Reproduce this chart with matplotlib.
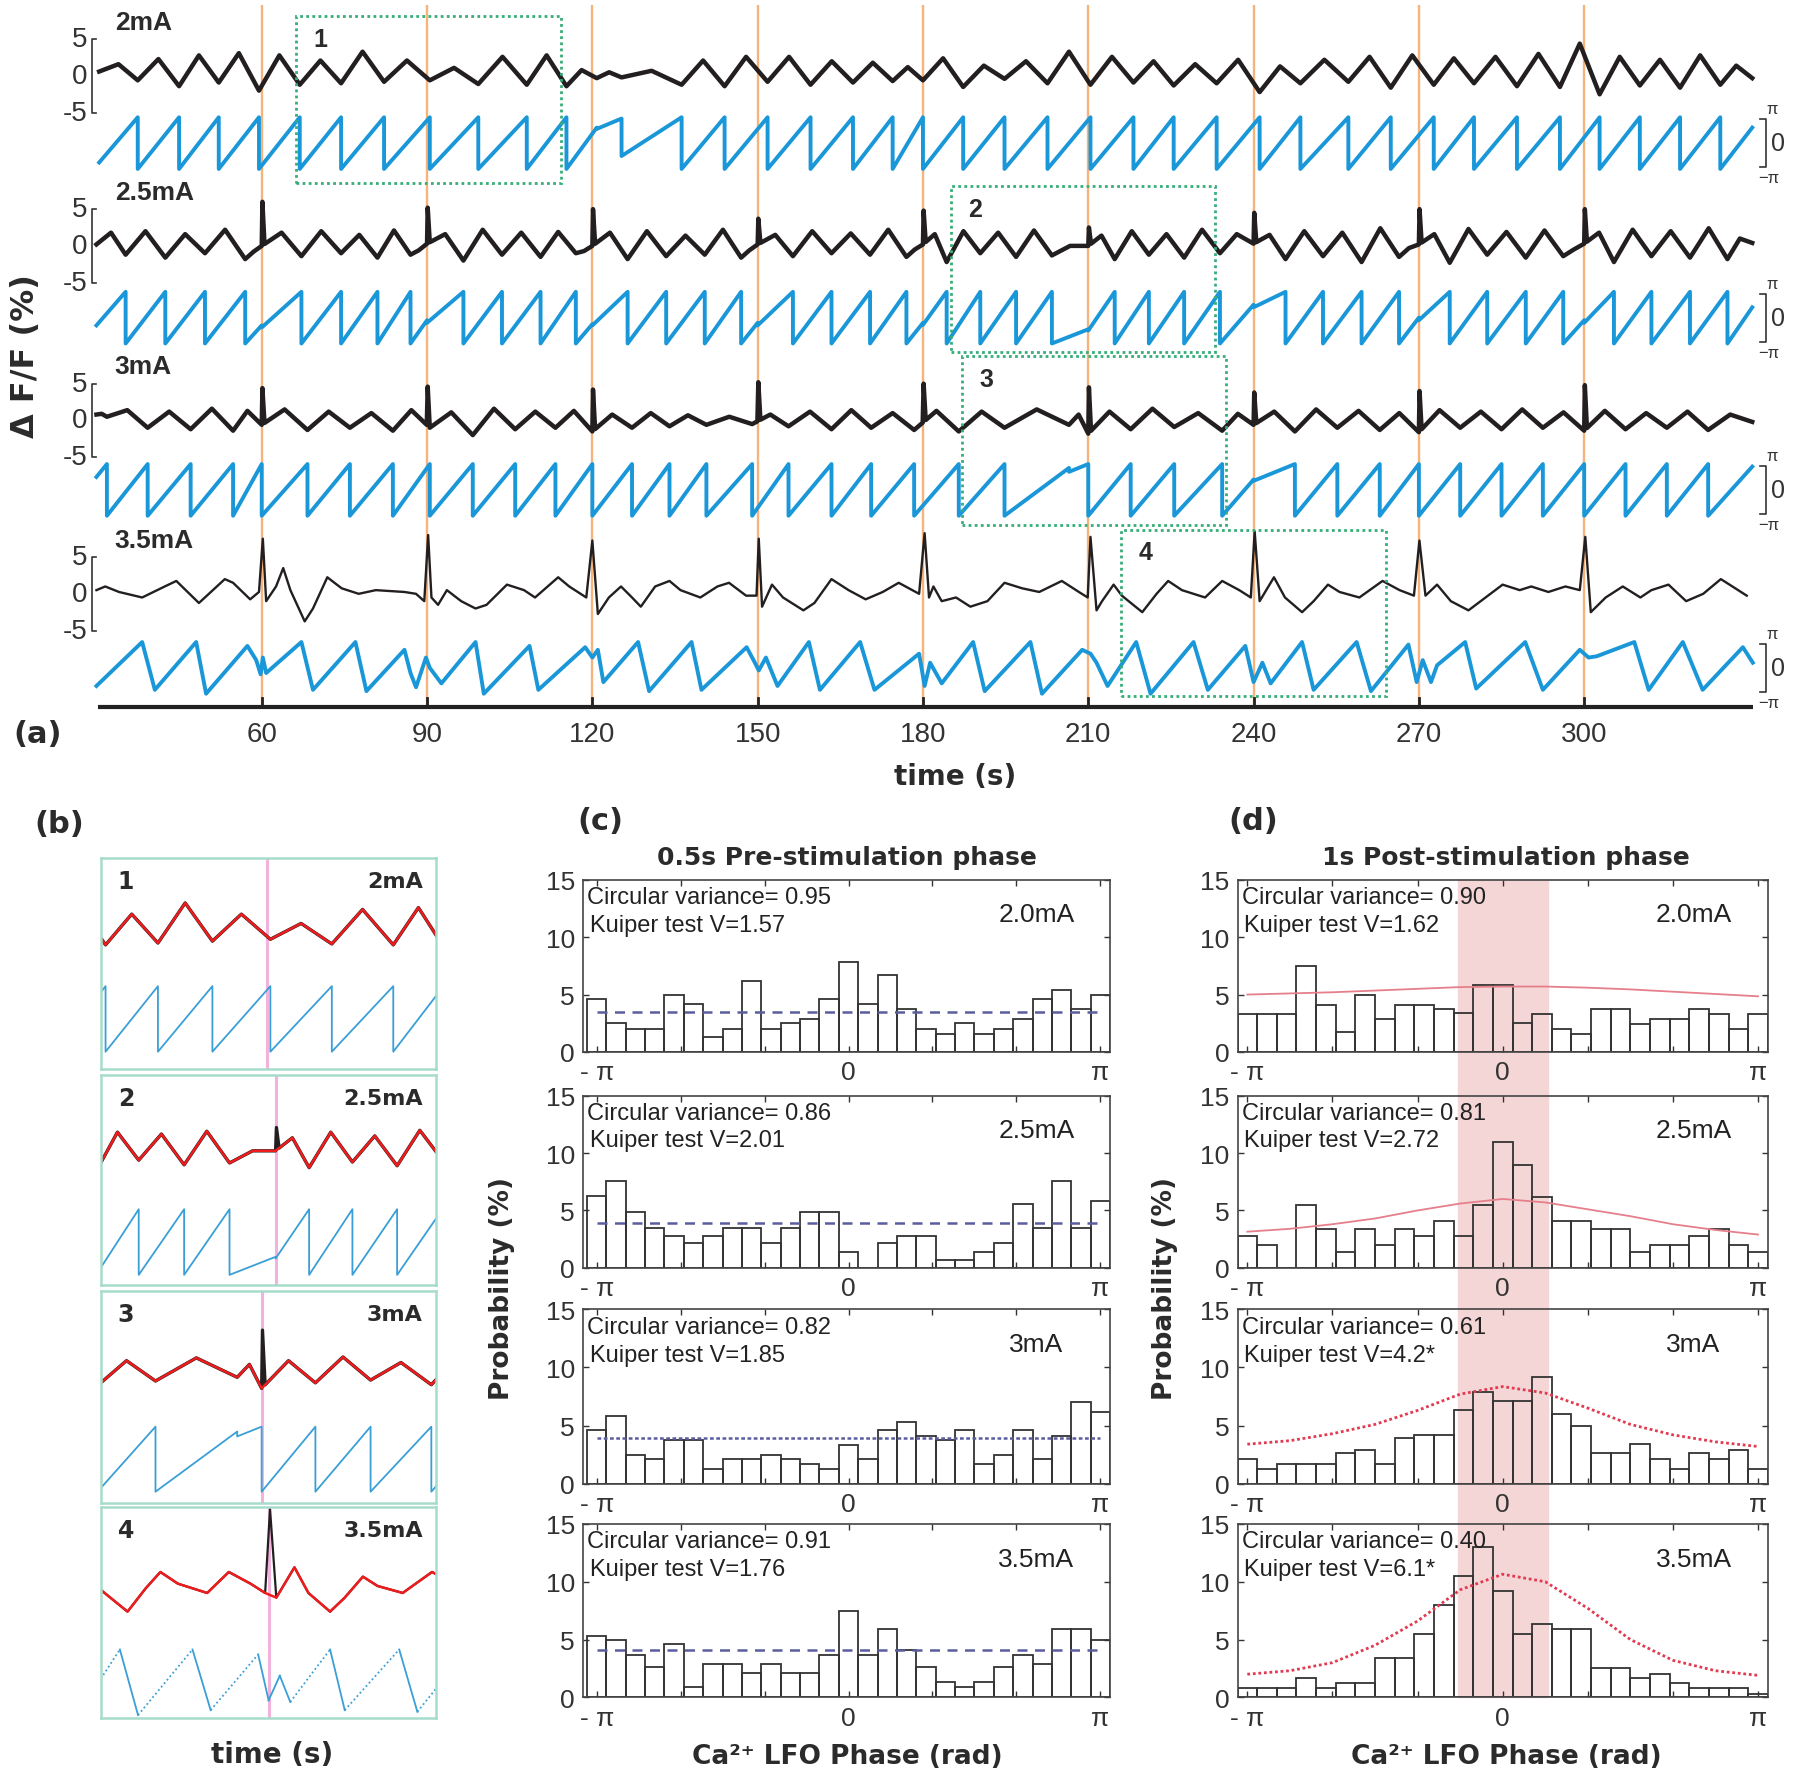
import numpy as np
import matplotlib.pyplot as plt
from matplotlib.patches import Rectangle

plt.rcParams['font.family'] = ['Liberation Sans Narrow', 'Liberation Sans', 'DejaVu Sans']
BOLD = ['Liberation Sans', 'DejaVu Sans']
WIDE = ['DejaVu Sans']

# ---------------- data ----------------
stim_times = [60, 90, 120, 150, 180, 210, 240, 270, 300]
time_ticks = [60, 90, 120, 150, 180, 210, 240, 270, 300]
currents = ['2mA', '2.5mA', '3mA', '3.5mA']

# LFO phase wrap times (s) and dF/F at troughs (wraps) / peaks (mid cycle)
wraps_2mA = [30.5, 37.5, 45.0, 52.2, 59.5, 66.9, 74.4, 82.2, 90.5, 99.3, 108.1, 115.3, 120.8, 125.3,
             136.2, 144.0, 151.8, 159.6, 167.3, 174.5, 180.0, 187.3, 194.8, 202.6, 210.4, 218.2, 225.5,
             233.3, 241.1, 248.5, 257.2, 264.9, 272.7, 280.0, 287.8, 295.6, 302.8, 310.1, 317.4, 324.7, 330.5]
kinks_2mA = {120.8: (0.6, 0.55), 125.3: (0.95, -0.5)}
ends_2mA = (-0.75, 0.6)
troughs_2mA = [0.6, -0.6, -1.4, -0.9, -2.0, -1.2, -1.0, -0.8, -0.6, -1.1, -1.2, -1.4, -0.3, -0.2, -1.2,
               -1.4, -0.8, -1.2, -0.9, -0.7, -0.6, -1.5, -0.4, -1.0, -1.2, -0.9, -1.3, -1.0, -2.2, -1.0,
               -0.8, -1.6, -1.2, -1.0, -1.4, -1.5, -2.5, -1.3, -1.6, -1.2, -0.3]
peaks_2mA = [1.6, 2.3, 2.8, 3.1, 2.8, 2.1, 3.3, 2.1, 1.1, 2.6, 2.8, 0.8, 0.5, 0.7, 2.1, 2.6, 2.6, 2.0,
             1.8, 1.2, 2.4, 1.4, 2.0, 3.3, 2.6, 2.0, 1.6, 2.2, 1.3, 2.2, 2.6, 2.8, 2.4, 2.6, 3.0, 4.4,
             2.6, 2.2, 2.8, 1.4]
spikes_2mA = {}

wraps_25mA = [30.0, 35.3, 42.5, 49.7, 57.0, 60.0, 67.2, 74.4, 81.0, 87.0, 90.0, 96.6, 103.6, 110.6,
              117.0, 120.0, 126.4, 133.4, 140.4, 147.0, 150.0, 156.4, 163.4, 170.4, 177.0, 180.0, 184.3,
              190.4, 196.9, 203.4, 210.0, 214.8, 221.0, 227.4, 233.9, 240.0, 245.8, 252.6, 259.6, 266.4,
              270.0, 275.6, 282.4, 289.4, 296.2, 300.0, 305.4, 312.2, 319.2, 326.0, 330.5]
kinks_25mA = {60.0: (-0.3, -0.38), 90.0: (-0.1, -0.2), 120.0: (-0.25, -0.3), 150.0: (-0.2, -0.3),
              180.0: (-0.2, -0.28), 210.0: (-0.45, -0.5), 240.0: (0.5, 0.4), 270.0: (0.0, -0.1),
              300.0: (-0.1, -0.2)}
ends_25mA = (-0.3, 0.4)
troughs_25mA = [0.2, -1.2, -1.6, -1.0, -1.8, 0.0, -1.4, -1.0, -1.6, -1.2, 0.3, -2.0, -1.2, -1.5, -1.0,
                0.0, -1.8, -1.4, -1.2, -1.6, 0.2, -1.4, -1.0, -1.2, -1.5, 0.2, -2.2, -1.0, -1.5, -1.3,
                0.0, -1.8, -1.2, -1.6, -1.0, 0.3, -1.8, -1.4, -2.2, -1.5, 0.2, -2.3, -1.2, -1.6, -1.4,
                0.3, -2.2, -1.4, -1.6, -1.8, 0.4]
peaks_25mA = [1.8, 2.0, 1.6, 2.2, -0.8, 1.8, 2.0, 1.5, 2.1, -0.6, 1.6, 2.2, 1.8, 1.9, -0.7, 1.8, 2.0,
              1.4, 2.2, -0.6, 1.5, 2.0, 1.7, 2.2, -0.5, 1.6, 2.0, 1.8, 2.1, 0.0, 1.4, 2.0, 1.6, 2.2,
              1.6, 1.5, 2.0, 1.8, 2.4, -0.3, 1.6, 2.3, 1.9, 2.1, -0.5, 1.8, 2.2, 2.0, 2.4, 1.0]
spikes_25mA = {60: 6.0, 90: 5.2, 120: 5.0, 150: 3.7, 180: 4.8, 210: 2.5, 240: 4.5, 270: 5.0, 300: 5.0}

wraps_3mA = [30.0, 31.9, 39.3, 47.1, 54.8, 60.0, 68.3, 76.0, 83.8, 90.5, 98.3, 106.0, 113.3, 120.0,
             127.2, 134.0, 140.7, 149.0, 155.6, 163.4, 170.6, 178.4, 186.5, 194.8, 206.5, 210.0, 217.7,
             225.6, 234.3, 240.0, 247.5, 255.2, 262.9, 270.0, 277.5, 285.0, 292.5, 300.0, 307.5, 315.0,
             322.5, 330.5]
kinks_3mA = {206.5: (0.85, 0.7), 240.0: (0.4, 0.35)}
ends_3mA = (0.5, 0.9)
troughs_3mA = [0.8, 0.5, -1.0, -1.2, -1.4, -0.6, -1.3, -1.0, -1.4, -1.0, -2.0, -1.2, -1.0, -1.5, -1.0,
               -0.8, -0.6, -0.5, -0.8, -1.2, -1.0, -1.3, -1.5, -1.0, -0.6, -1.8, -1.2, -0.9, -1.4, -0.6,
               -1.5, -1.0, -1.3, -1.6, -1.0, -1.2, -1.0, -1.4, -1.2, -1.0, -1.3, -0.2]
peaks_3mA = [0.9, 1.4, 1.2, 1.6, 1.3, 1.5, 1.2, 1.0, 1.4, 1.1, 1.6, 1.2, 1.3, 0.8, 1.0, 0.7, 0.5, 0.8,
             1.2, 1.4, 1.0, 1.3, 1.2, 1.5, 0.8, 1.2, 1.6, 1.0, 0.9, 1.2, 1.5, 1.3, 1.0, 1.4, 1.2, 1.5,
             1.1, 1.3, 1.0, 1.2, 0.8]
spikes_3mA = {60: 4.4, 90: 4.6, 120: 4.2, 150: 5.2, 180: 5.0, 210: 4.5, 240: 3.8, 270: 4.0, 300: 4.8}

# 3.5 mA traced directly: (time s, dF/F %) and (time s, phase / pi)
trace_35mA = [(30.0, 0.5), (31.6, 1.0), (34.1, 0.25), (38.3, -0.5), (42.4, 1.0), (44.5, 1.75), (48.6, -1.25),
              (53.3, 2.0), (54.8, 1.5), (57.9, -0.75), (59.5, 0.25), (60.2, 7.5), (60.8, -1.0), (62.6, 1.0),
              (63.9, 3.5), (65.2, 0.5), (67.8, -3.75), (69.3, -2.0), (71.9, 2.25), (74.5, 0.75), (77.6, 0.0),
              (80.7, 0.5), (85.9, 0.25), (88.0, 0.0), (89.5, -1.0), (90.2, 8.0), (90.8, -0.5), (92.0, -1.5),
              (93.6, 0.5), (96.2, -1.0), (98.8, -2.0), (100.8, -1.5), (104.5, 1.25), (107.6, 0.5),
              (109.6, -0.5), (113.8, 2.25), (115.8, 1.0), (118.9, -0.5), (120.0, 7.25), (121.0, -2.75),
              (123.0, -0.5), (125.2, 1.0), (127.2, -0.5), (128.8, -1.75), (131.4, 1.0), (134.0, 1.75),
              (136.0, 0.5), (139.6, -0.5), (142.7, 1.0), (144.8, 1.5), (147.9, -0.25), (149.8, -0.25),
              (150.2, 7.5), (150.8, -1.75), (152.6, 1.25), (154.6, -0.5), (158.3, -2.25), (160.3, -1.25),
              (163.4, 2.0), (166.5, 0.5), (169.6, -0.75), (172.7, 0.25), (175.6, 1.5), (179.3, 0.0),
              (180.3, 8.25), (181.1, -0.5), (181.9, 1.0), (183.4, -1.0), (186.0, -0.5), (188.6, -1.75),
              (191.7, -1.0), (194.8, 1.5), (198.0, 0.75), (201.1, 0.25), (205.2, 1.75), (208.3, 0.25),
              (209.9, -0.5), (210.4, 7.75), (211.5, -2.25), (212.5, -1.0), (214.6, 1.25), (216.1, -0.25),
              (219.8, -2.5), (222.4, 0.0), (224.5, 1.75), (227.0, 0.5), (231.2, -0.5), (234.3, 1.75),
              (237.4, 0.5), (239.5, -0.5), (240.2, 8.5), (241.1, -1.0), (243.7, 2.25), (245.7, -0.5),
              (248.8, -2.5), (250.9, -1.0), (253.5, 1.25), (255.6, 0.25), (259.2, -0.5), (263.4, 1.75),
              (266.5, 0.5), (269.1, -0.25), (270.1, 7.25), (271.2, -0.25), (273.3, 1.25), (275.8, -1.0),
              (279.0, -2.25), (282.1, -0.5), (285.2, 1.25), (288.3, 0.5), (290.4, 1.0), (293.5, 0.25),
              (296.6, 1.0), (299.2, 0.5), (300.2, 7.75), (301.2, -2.5), (303.9, -0.5), (307.0, 1.0),
              (310.2, -0.5), (312.2, 0.5), (315.3, 1.25), (318.5, -1.0), (321.6, 0.0), (324.8, 2.0),
              (326.9, 1.0), (329.5, -0.25)]
phase_35mA = [(30.0, -0.7), (38.3, 1.0), (40.6, -0.85), (48.1, 1.0), (49.9, -1.0), (57.4, 0.85), (59.0, 0.3),
              (59.8, -0.25), (60.2, 0.4), (60.8, -0.2), (67.2, 1.0), (69.3, -0.85), (77.0, 1.0), (79.0, -0.9),
              (85.9, 0.7), (87.0, -0.2), (88.0, -0.75), (89.8, 0.4), (90.5, 0.0), (92.6, -0.6), (98.8, 1.0),
              (100.3, -1.0), (108.6, 0.85), (110.2, -0.85), (118.7, 0.8), (120.0, 0.4), (121.0, 0.7),
              (122.0, -0.55), (128.3, 1.0), (130.3, -0.9), (138.0, 1.0), (139.8, -0.85), (148.0, 0.8),
              (149.5, 0.2), (150.2, -0.1), (151.5, 0.4), (153.6, -0.7), (159.3, 1.0), (161.3, -0.85),
              (168.6, 1.0), (171.2, -0.85), (179.3, 0.55), (180.3, -0.7), (181.3, 0.2), (183.4, -0.6),
              (189.1, 1.0), (191.2, -0.9), (199.5, 1.0), (201.6, -1.0), (208.9, 0.7), (210.4, 0.55),
              (211.5, 0.2), (213.5, -0.7), (218.7, 1.0), (221.3, -1.0), (229.1, 1.0), (231.7, -0.85),
              (238.5, 0.85), (240.0, -0.55), (241.6, 0.2), (243.1, -0.6), (248.8, 1.0), (250.9, -0.85),
              (258.7, 1.0), (261.3, -0.9), (268.1, 0.9), (269.6, -0.55), (270.7, 0.3), (272.2, -0.55),
              (273.3, 0.1), (278.4, 1.0), (280.4, -0.8), (289.3, 1.0), (292.5, -0.85), (299.2, 0.7),
              (300.8, 0.4), (302.3, 0.45), (309.1, 1.0), (311.7, -0.85), (317.9, 1.0), (321.5, -0.85),
              (328.8, 0.8), (330.6, 0.2)]

# zoomed windows 1-4 (start time, s)
window_start = [66.25, 185.0, 187.0, 216.0]
window_stim = [90, 210, 210, 240]

# phase histograms, 27 bins from -pi to pi (%)
pre_hist = [
    [4.6, 2.5, 2.0, 2.0, 5.0, 4.2, 1.3, 2.0, 6.2, 2.0, 2.5, 2.9, 4.6, 7.8, 4.2, 6.7, 3.7, 2.0, 1.6, 2.5, 1.6, 2.0, 2.9, 4.6, 5.4, 3.7, 5.0],
    [6.3, 7.6, 4.9, 3.5, 2.8, 2.2, 2.8, 3.5, 3.5, 2.2, 3.5, 4.9, 4.9, 1.4, 0.0, 2.2, 2.8, 2.8, 0.7, 0.7, 1.4, 2.2, 5.6, 3.5, 7.6, 3.5, 5.8],
    [4.6, 5.8, 2.5, 2.1, 3.8, 3.8, 1.3, 2.1, 2.1, 2.5, 2.1, 1.7, 1.3, 3.3, 2.1, 4.6, 5.3, 4.1, 3.8, 4.6, 1.7, 2.5, 4.6, 2.1, 4.1, 7.0, 6.2],
    [5.3, 5.0, 3.7, 2.6, 4.6, 0.9, 2.9, 2.9, 2.1, 2.9, 2.1, 2.1, 3.7, 7.5, 3.7, 5.9, 4.1, 2.6, 1.3, 0.9, 1.3, 2.6, 3.7, 2.9, 5.9, 5.9, 5.0],
]
post_hist = [
    [3.3, 3.3, 3.3, 7.5, 4.1, 1.7, 5.0, 2.9, 4.1, 4.1, 3.7, 3.4, 5.8, 5.8, 2.5, 3.3, 2.0, 1.6, 3.7, 3.7, 2.4, 2.9, 2.9, 3.7, 3.3, 2.0, 3.3],
    [2.8, 2.0, 0.0, 5.5, 3.4, 1.4, 3.4, 2.0, 3.4, 2.8, 4.1, 2.8, 5.5, 11.0, 9.0, 6.2, 4.1, 4.1, 3.4, 3.4, 1.4, 2.0, 2.0, 2.8, 3.4, 2.0, 1.4],
    [2.1, 1.3, 1.7, 1.7, 1.7, 2.6, 2.9, 1.7, 3.9, 4.2, 4.2, 6.3, 7.9, 7.1, 7.1, 9.2, 6.0, 5.0, 2.6, 2.6, 3.4, 2.1, 1.3, 2.6, 2.1, 2.9, 1.3],
    [0.8, 0.8, 0.8, 1.7, 0.8, 1.2, 1.2, 3.4, 3.4, 5.5, 8.0, 10.5, 13.0, 9.2, 5.5, 6.3, 5.9, 5.9, 2.5, 2.5, 1.7, 2.0, 1.2, 0.8, 0.8, 0.8, 0.3],
]
uniform_level = [3.5, 3.9, 3.9, 4.1]
# von Mises fit read at 13 phases from -pi to pi
fit_curves = [
    [5.0, 5.1, 5.2, 5.35, 5.5, 5.65, 5.7, 5.7, 5.6, 5.45, 5.25, 5.05, 4.85],
    [3.15, 3.4, 3.8, 4.3, 5.0, 5.6, 6.0, 5.7, 5.1, 4.5, 3.8, 3.3, 2.9],
    [3.4, 3.7, 4.3, 5.1, 6.3, 7.7, 8.35, 7.8, 6.5, 5.1, 4.2, 3.6, 3.2],
    [2.0, 2.3, 3.0, 4.5, 6.6, 9.3, 10.65, 10.0, 7.7, 5.0, 3.2, 2.3, 1.9],
]
pre_cv = ['0.95', '0.86', '0.82', '0.91']
pre_kv = ['1.57', '2.01', '1.85', '1.76']
pre_cur = ['2.0mA', '2.5mA', '3mA', '3.5mA']
post_cv = ['0.90', '0.81', '0.61', '0.40']
post_kv = ['1.62', '2.72', '4.2*', '6.1*']
post_cur = ['2.0mA', '2.5mA', '3mA', '3.5mA']
lock_window = (-0.55, 0.56)

# ---------------- helpers ----------------
W, H = 1568.0, 1551.0


def box(x0, y0, x1, y1):
    return [x0 / W, 1 - y1 / H, (x1 - x0) / W, (y1 - y0) / H]


def ftxt(x, y, s, **kw):
    fig.text(x / W, 1 - y / H, s, **kw)


def tx(x):
    return 60 + (x - 228) / 4.8


def phase_path(wraps, kinks, ends):
    ts, vs = [], []
    n = len(wraps) - 1
    for i in range(n):
        a, b = wraps[i], wraps[i + 1]
        lo, hi = -1.0, 1.0
        if i == 0:
            lo = ends[0]
        if i == n - 1:
            hi = ends[1]
        if a in kinks:
            lo = kinks[a][1]
        if b in kinks:
            hi = kinks[b][0]
        ts += [a, b]
        vs += [lo, hi]
    return np.array(ts), np.array(vs)


def trace_path(wraps, troughs, peaks, spikes):
    t, v = [], []
    for i in range(len(wraps) - 1):
        t += [wraps[i], 0.5 * (wraps[i] + wraps[i + 1])]
        v += [troughs[i], peaks[i]]
    t.append(wraps[-1])
    v.append(troughs[-1])
    t, v = np.array(t), np.array(v)
    pts = list(zip(t, v))
    for s, h in spikes.items():
        pts += [(s - 0.05, np.interp(s - 0.05, t, v)), (s + 0.12, h), (s + 0.5, np.interp(s + 0.5, t, v))]
    pts.sort()
    pts = np.array(pts)
    return pts[:, 0], pts[:, 1], t, v


rows = []
for wr, kk, en, tr, pk, sp in [(wraps_2mA, kinks_2mA, ends_2mA, troughs_2mA, peaks_2mA, spikes_2mA),
                               (wraps_25mA, kinks_25mA, ends_25mA, troughs_25mA, peaks_25mA, spikes_25mA),
                               (wraps_3mA, kinks_3mA, ends_3mA, troughs_3mA, peaks_3mA, spikes_3mA)]:
    bt, bv, st, sv = trace_path(wr, tr, pk, sp)
    pt, pv = phase_path(wr, kk, en)
    rows.append((bt, bv, st, sv, pt, pv))
tr35 = np.array(trace_35mA)
ph35 = np.array(phase_35mA)
keep = tr35[:, 1] < 5
rows.append((tr35[:, 0], tr35[:, 1], tr35[keep, 0], tr35[keep, 1], ph35[:, 0], ph35[:, 1]))

black_base = [67, 215, 367, 518]
phase_base = [125.5, 277.5, 427.5, 582.5]
box_y = [(15, 160), (163, 307), (311, 458), (462, 607)]
DF = 6.4      # px per % dF/F
PH = 22.5     # px per pi

BLUE = '#1a97d8'
ORANGE = '#f6b47c'
GREEN = '#37ad78'
INK = '#2b2b2b'

fig = plt.figure(figsize=(18, 17.81), dpi=100)

# ---------------- (a) ----------------
ax = fig.add_axes(box(0, 0, W, 705))
ax.set_xlim(tx(0), tx(W))
ax.set_ylim(-705, 0)
ax.axis('off')
ax.vlines(stim_times, -617, -5, color=ORANGE, lw=1.7, zorder=1)
for r, (bt, bv, st, sv, pt, pv) in enumerate(rows):
    lw = 1.7 if r == 3 else 3.2
    ax.plot(bt, -black_base[r] + DF * bv, color='#231f20', lw=lw, zorder=3, solid_joinstyle='round')
    ax.plot(pt, -phase_base[r] + PH * pv, color=BLUE, lw=2.8, zorder=3)
    b = black_base[r]
    ax.plot([tx(84), tx(80), tx(80), tx(84)], [-b + 32, -b + 32, -b - 32, -b - 32], color='#333', lw=1.2)
    for lab, dy in [('5', 32), ('0', 0), ('-5', -32)]:
        ax.text(tx(76), -b + dy, lab, ha='right', va='center', fontsize=20, color='#333')
    ax.text(tx(100), -b + 47, currents[r], ha='left', va='center', fontsize=19, weight='bold',
            family=BOLD, color=INK)
    p = phase_base[r]
    ax.plot([tx(1533), tx(1538), tx(1538), tx(1533)], [-p + 21, -p + 21, -p - 21, -p - 21], color='#333', lw=1.2)
    ax.text(tx(1544), -p + 30, 'π', ha='center', va='center', fontsize=12, color='#333')
    ax.text(tx(1543), -p, '0', ha='left', va='center', fontsize=18, color='#333')
    ax.text(tx(1541), -p - 30, '−π', ha='center', va='center', fontsize=12, color='#333')
    t0 = window_start[r]
    y0, y1 = box_y[r]
    ax.add_patch(Rectangle((t0, -y1), 48, y1 - y0, fill=False, ec=GREEN, lw=2, ls=(0, (1, 1.2)), zorder=4))
    ax.text(t0 + 3.2, -y0 - 20, str(r + 1), ha='left', va='center', fontsize=18, weight='bold',
            family=BOLD, color=INK)
ax.plot([30.2, 330.6], [-617, -617], color='#222', lw=3, solid_capstyle='butt')
for t in time_ticks:
    ax.plot([t, t], [-617, -609], color='#222', lw=2)
    ax.text(t, -640, str(t), ha='center', va='center', fontsize=20, color='#333')
ax.text(tx(832), -677, 'time (s)', ha='center', va='center', fontsize=20, weight='bold', family=WIDE, color=INK)
ax.text(tx(33), -640, '(a)', ha='center', va='center', fontsize=22, weight='bold', family=WIDE, color=INK)
ftxt(22, 310, 'Δ F/F (%)', rotation=90, ha='center', va='center', fontsize=23, weight='bold', family=WIDE, color=INK)

# ---------------- (b) ----------------
inset_y = [(748, 932), (937, 1120), (1125, 1310), (1313, 1497)]
for r, (bt, bv, st, sv, pt, pv) in enumerate(rows):
    axi = fig.add_axes(box(88, inset_y[r][0], 380, inset_y[r][1]))
    t0 = window_start[r]
    y0, y1 = box_y[r]
    axi.set_xlim(t0, t0 + 48)
    axi.set_ylim(-y1, -y0)
    axi.axvline(window_stim[r], color='#f2b2dc', lw=2.2, zorder=0)
    axi.plot(bt, -black_base[r] + DF * bv, color='#231f20', lw=2.4 if r < 3 else 1.6, solid_joinstyle='round')
    axi.plot(st, -black_base[r] + DF * sv, color='#ee1c1c', lw=1.8)
    py = -phase_base[r] + PH * pv
    if r < 3:
        axi.plot(pt, py, color='#3a9fd6', lw=1.3)
    else:
        # slow rising stretches of the 3.5 mA phase appear dotted in the original
        for i in range(len(pt) - 1):
            rising = pv[i + 1] > pv[i] and pt[i + 1] - pt[i] > 3
            axi.plot(pt[i:i + 2], py[i:i + 2], color='#3a9fd6', lw=1.3,
                     ls=(0, (1, 1.5)) if rising else '-')
    axi.set_xticks([])
    axi.set_yticks([])
    for s in axi.spines.values():
        s.set_color('#a6dccb')
        s.set_linewidth(1.8)
    axi.text(0.05, 0.89, str(r + 1), transform=axi.transAxes, ha='left', va='center', fontsize=17,
             weight='bold', family=WIDE, color=INK)
    axi.text(0.96, 0.89, currents[r], transform=axi.transAxes, ha='right', va='center', fontsize=16,
             weight='bold', family=WIDE, color=INK)
ftxt(237, 1528, 'time (s)', ha='center', va='center', fontsize=20, weight='bold', family=WIDE, color=INK)
ftxt(52, 718, '(b)', ha='center', va='center', fontsize=22, weight='bold', family=WIDE, color=INK)

# ---------------- (c) & (d) ----------------
centers = np.linspace(-np.pi, np.pi, 27)
width = 2 * np.pi / 26
fit_x = np.linspace(-np.pi, np.pi, 13)
hist_y = [(767, 917), (955, 1105), (1141, 1293), (1328, 1479)]
cols = [(508, 967, pre_hist, pre_cv, pre_kv, pre_cur, (-3.31, np.pi + width / 2)),
        (1078, 1540, post_hist, post_cv, post_kv, post_cur, (-np.pi - width / 2, np.pi + width / 2))]

# shaded locking window behind (d)
x0d, x1d = cols[1][0], cols[1][1]
xl = cols[1][6]
sx0 = x0d + (lock_window[0] - xl[0]) / (xl[1] - xl[0]) * (x1d - x0d)
sx1 = x0d + (lock_window[1] - xl[0]) / (xl[1] - xl[0]) * (x1d - x0d)
fig.patches.append(Rectangle((sx0 / W, 1 - hist_y[3][1] / H), (sx1 - sx0) / W,
                             (hist_y[3][1] - hist_y[0][0]) / H, transform=fig.transFigure,
                             color='#f4d6d6', zorder=-1))

for c, (xa, xb, hist, cv, kv, cur, xlim) in enumerate(cols):
    for r in range(4):
        axh = fig.add_axes(box(xa, hist_y[r][0], xb, hist_y[r][1]))
        axh.set_facecolor('none')
        axh.bar(centers, hist[r], width=width, facecolor='none', edgecolor='#333', lw=1.3)
        if c == 0:
            axh.hlines(uniform_level[r], -np.pi, np.pi, color='#5a5d9e', lw=1.8,
                       linestyles=(0, (1.5, 1)) if r == 2 else (0, (4, 3)))
        else:
            if r < 2:
                axh.plot(fit_x, fit_curves[r], color='#e67f8c', lw=1.3)
            else:
                axh.plot(fit_x, fit_curves[r], color='#e23a50', lw=2, ls=(0, (1, 1)))
        axh.set_xlim(*xlim)
        axh.set_ylim(0, 15)
        axh.set_yticks([0, 5, 10, 15])
        axh.set_xticks([-np.pi, -2 * np.pi / 3, -np.pi / 3, 0, np.pi / 3, 2 * np.pi / 3, np.pi])
        axh.set_xticklabels(['- π', '', '', '0', '', '', 'π'])
        axh.tick_params(direction='in', top=True, right=True, length=4, width=1, labelsize=19,
                        colors='#333', pad=6)
        for s in axh.spines.values():
            s.set_color('#444')
            s.set_linewidth(1.2)
        axh.text(0.008, 0.9, 'Circular variance= ' + cv[r], transform=axh.transAxes, ha='left',
                 va='center', fontsize=17, color='#222')
        axh.text(0.013, 0.74, 'Kuiper test V=' + kv[r], transform=axh.transAxes, ha='left',
                 va='center', fontsize=17, color='#222')
        axh.text(0.86, 0.8, cur[r], transform=axh.transAxes, ha='center', va='center', fontsize=19,
                 color='#222')

ftxt(738, 747, '0.5s Pre-stimulation phase', ha='center', va='center', fontsize=18, weight='bold', family=WIDE, color=INK)
ftxt(1312, 747, '1s Post-stimulation phase', ha='center', va='center', fontsize=18, weight='bold', family=WIDE, color=INK)
for xx in (437, 1015):
    ftxt(xx, 1122, 'Probability (%)', rotation=90, ha='center', va='center', fontsize=19, weight='bold', family=WIDE, color=INK)
for xx in (738, 1312):
    ftxt(xx, 1530, 'Ca²⁺ LFO Phase (rad)', ha='center', va='center', fontsize=19, weight='bold', family=WIDE, color=INK)
ftxt(523, 715, '(c)', ha='center', va='center', fontsize=22, weight='bold', family=WIDE, color=INK)
ftxt(1092, 715, '(d)', ha='center', va='center', fontsize=22, weight='bold', family=WIDE, color=INK)

fig.savefig('out.png', dpi=100, facecolor='white')
